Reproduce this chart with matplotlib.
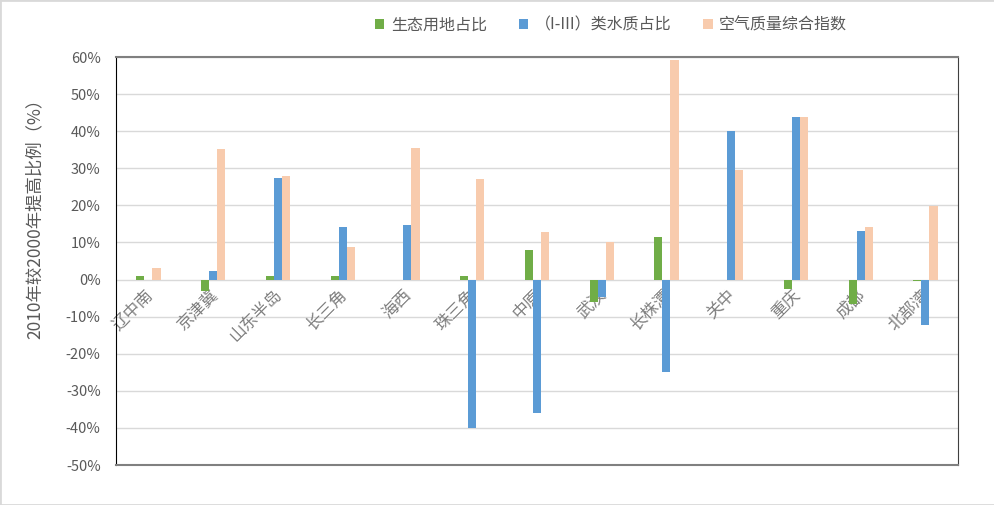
import numpy as np
import matplotlib
matplotlib.use('Agg')
from matplotlib import pyplot as plt
from matplotlib.patches import Rectangle
from matplotlib.ticker import MultipleLocator, FuncFormatter

plt.rcParams['font.family'] = ['Noto Sans CJK SC', 'DejaVu Sans']

regions = ['辽中南', '京津冀', '山东半岛', '长三角', '海西', '珠三角', '中原',
           '武汉', '长株潭', '关中', '重庆', '成都', '北部湾']
eco_land = [1.0, -3.0, 1.0, 1.0, 0.0, 1.0, 8.0, -6.1, 11.4, 0.0, -2.6, -6.5, -0.3]
water_quality = [0.0, 2.4, 27.4, 14.3, 14.8, -40.0, -36.0, -4.8, -24.8, 40.0, 43.9, 13.1, -12.2]
air_quality = [3.0, 35.1, 27.8, 8.7, 35.6, 27.1, 12.9, 10.0, 59.3, 29.5, 43.9, 14.3, 19.8]
series_names = ['生态用地占比', '（I-III）类水质占比', '空气质量综合指数']
colors = ['#70AD47', '#5B9BD5', '#F8CBAD']

text_color = '#595959'


def main():
    fig = plt.figure(figsize=(9.95, 5.05), dpi=100)
    ax = fig.add_axes([0.1166, 0.0792, 0.846, 0.8079])

    x = np.arange(len(regions))
    w = 0.125
    for k, (vals, name, c) in enumerate(zip([eco_land, water_quality, air_quality], series_names, colors)):
        ax.bar(x + (k - 1) * w, vals, width=w, color=c, label=name, zorder=3)

    ax.set_xlim(-0.5, len(regions) - 0.5)
    ax.set_ylim(-50, 60)
    ax.yaxis.set_major_locator(MultipleLocator(10))
    ax.yaxis.set_major_formatter(FuncFormatter(lambda v, p: f'{v:.0f}%'))
    ax.grid(axis='y', color='#d9d9d9', lw=1, zorder=0)
    ax.set_axisbelow(True)
    ax.set_xticks([])
    ax.tick_params(axis='y', length=0, pad=11, labelsize=10.5, labelcolor=text_color)

    ax.spines['left'].set_color('#000000')
    ax.spines['right'].set_color('#404040')
    ax.spines['top'].set_color('#808080')
    ax.spines['top'].set_linewidth(1.5)
    ax.spines['bottom'].set_color('#808080')
    ax.spines['bottom'].set_linewidth(1.5)

    # category labels sit under the zero line, as in the original sheet
    for i, name in enumerate(regions):
        ax.annotate(name, xy=(i, 0), xytext=(-3, -5), textcoords='offset points',
                    rotation=45, rotation_mode='anchor', ha='right', va='top',
                    fontsize=12, color='#7f7f7f', zorder=2)

    ax.set_ylabel('2010年较2000年提高比例（%）', fontsize=12.5, color=text_color)
    ax.yaxis.set_label_coords(-0.086, 0.615)

    fig.legend(loc='upper center', bbox_to_anchor=(0.614, 0.995), ncol=3, frameon=False,
               fontsize=11.5, handlelength=0.6, handleheight=0.6, handletextpad=0.4,
               columnspacing=2.0, labelcolor=text_color)

    fig.patches.append(Rectangle((0, 0), 1, 1, transform=fig.transFigure, fill=False,
                                 edgecolor='#d9d9d9', lw=2))

    fig.savefig('out.png', dpi=100)


if __name__ == '__main__':
    main()
